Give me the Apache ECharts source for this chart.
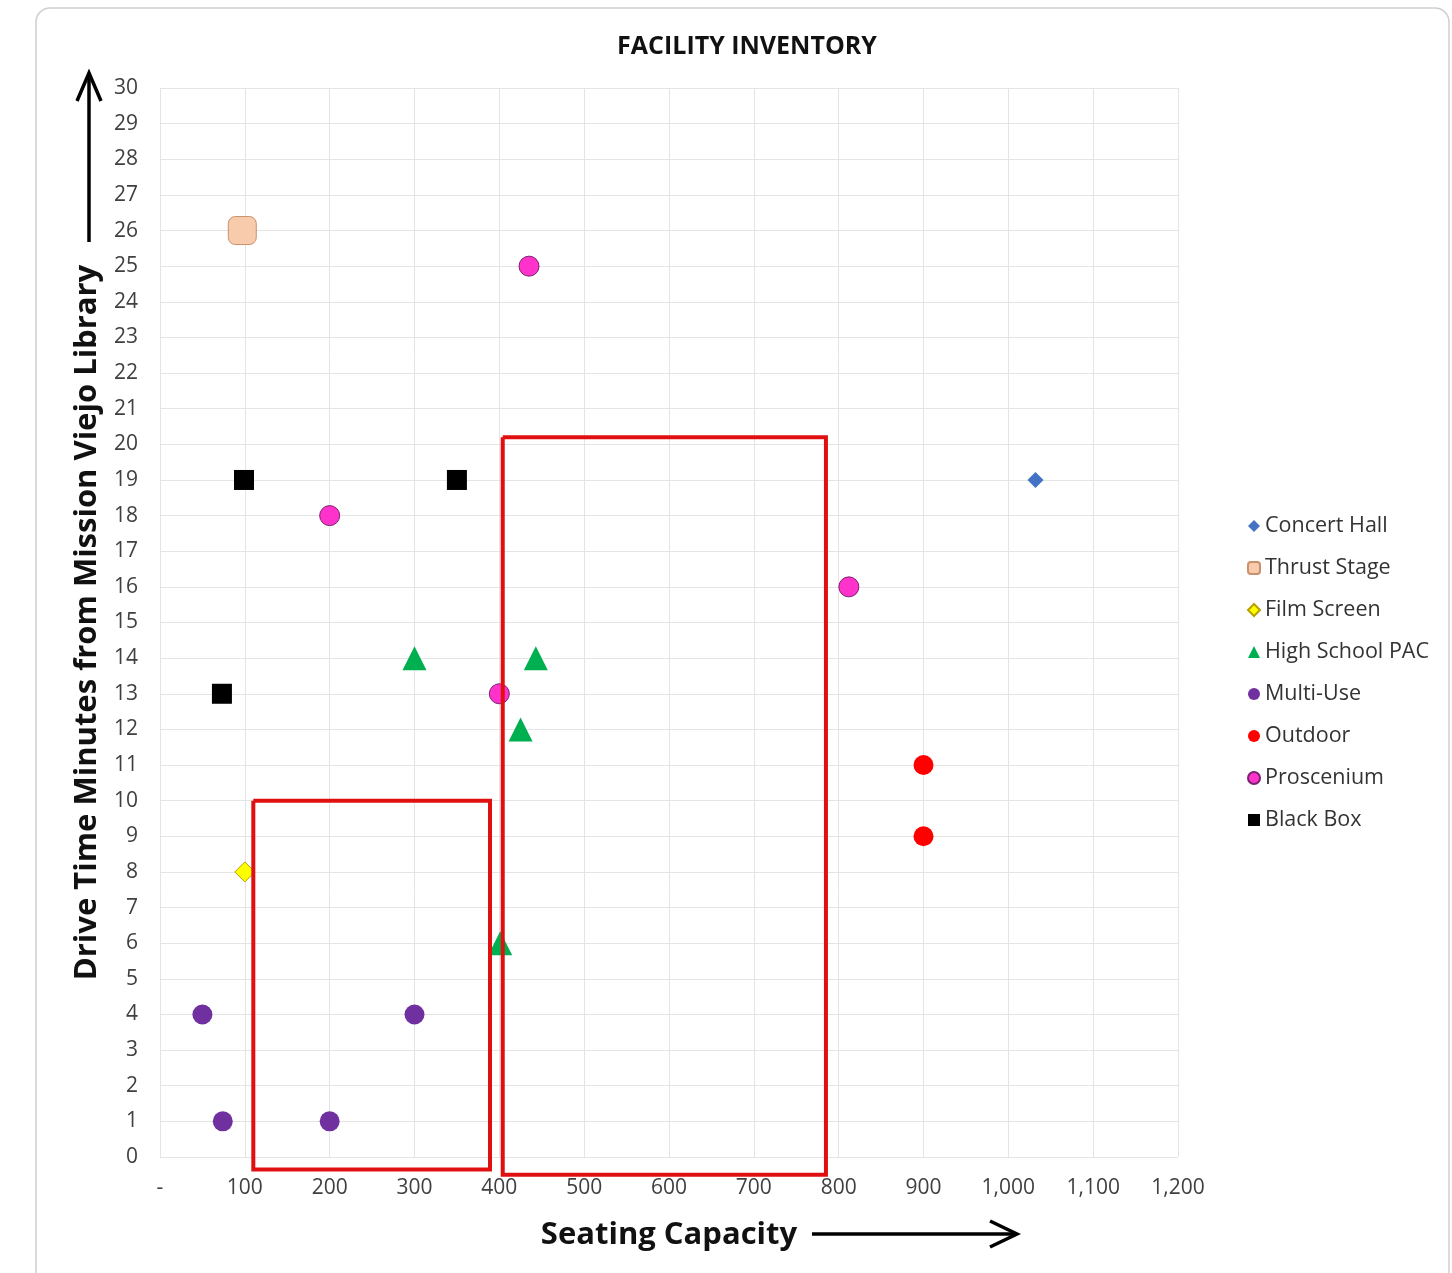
<!DOCTYPE html>
<html>
<head>
<meta charset="utf-8">
<script src="https://cdn.jsdelivr.net/npm/echarts@6/dist/echarts.min.js"></script>
<style>
  html, body { margin: 0; padding: 0; background: #fff; }
  #chart { width: 1452px; height: 1273px; }
</style>
</head>
<body>
<div id="chart"></div>
<script>
// 数据：各类场馆 [座位数, 车程分钟]
var concertHall = [[1032, 19]];
var thrustStage = [[97, 26]];
var filmScreen = [[100, 8]];
var highSchoolPac = [[300, 14], [443, 14], [425, 12], [401, 6]];
var multiUse = [[50, 4], [74, 1], [200, 1], [300, 4]];
var outdoor = [[900, 11], [900, 9]];
var proscenium = [[435, 25], [200, 18], [812, 16], [400, 13]];
var blackBox = [[99, 19], [350, 19], [73, 13]];

// 红框（目标区域）
var boxSmall = [[110, 10], [389, 10], [389, -0.35], [110, -0.35], [110, 10]];
var boxLarge = [[404, 20.2], [785, 20.2], [785, -0.5], [404, -0.5], [404, 20.2]];

var legendNames = ['Concert Hall', 'Thrust Stage', 'Film Screen', 'High School PAC',
    'Multi-Use', 'Outdoor', 'Proscenium', 'Black Box'];

var FONT = 'Open Sans';

var chart = echarts.init(document.getElementById('chart'));

function scatter(name, data, symbol, size, color, border) {
    return {
        name: name,
        type: 'scatter',
        data: data,
        symbol: symbol,
        symbolSize: size,
        itemStyle: {
            color: color,
            borderColor: border || color,
            borderWidth: border ? 1 : 0,
            opacity: 1
        },
        z: 3
    };
}

function box(data) {
    return {
        type: 'line',
        data: data,
        symbol: 'none',
        clip: false,
        silent: true,
        lineStyle: { color: '#E01010', width: 4, join: 'miter' },
        z: 5
    };
}

var option = {
    animation: false,
    backgroundColor: '#fff',
    title: {
        text: 'FACILITY INVENTORY',
        left: 742,
        textAlign: 'center',
        top: 29,
        textStyle: { fontFamily: FONT, fontSize: 25, fontWeight: 'bold', color: '#111' }
    },
    legend: {
        orient: 'vertical',
        left: 1242,
        top: 510,
        data: legendNames,
        itemWidth: 12,
        itemHeight: 12,
        itemGap: 20,
        textStyle: { fontFamily: FONT, fontSize: 21.5, color: '#333' }
    },
    grid: { left: 160, right: 274, top: 88, bottom: 116 },
    xAxis: {
        type: 'value',
        min: 0,
        max: 1200,
        interval: 100,
        name: 'Seating Capacity',
        nameLocation: 'middle',
        nameGap: 63,
        nameTextStyle: { fontFamily: FONT, fontSize: 31, fontWeight: 'bold', color: '#111' },
        axisLine: { show: false },
        axisTick: { show: false },
        axisLabel: {
            fontFamily: FONT, fontSize: 21, color: '#404040', margin: 21,
            formatter: function (v) { return v === 0 ? '-' : v.toLocaleString('en-US'); }
        },
        splitLine: { lineStyle: { color: '#e4e4e4', width: 1 } }
    },
    yAxis: {
        type: 'value',
        min: 0,
        max: 30,
        interval: 1,
        name: 'Drive Time Minutes from Mission Viejo Library',
        nameLocation: 'middle',
        nameRotate: 90,
        nameGap: 55,
        nameTextStyle: { fontFamily: FONT, fontSize: 31, fontWeight: 'bold', color: '#111' },
        axisLine: { show: false },
        axisTick: { show: false },
        axisLabel: { fontFamily: FONT, fontSize: 21, color: '#404040', margin: 22 },
        splitLine: { lineStyle: { color: '#e4e4e4', width: 1 } }
    },
    graphic: [
        // 外框
        {
            type: 'rect',
            shape: { x: 36, y: 8, width: 1413, height: 1290, r: 14 },
            style: { fill: 'none', stroke: '#cfcfcf', lineWidth: 1.5 },
            z: -1
        },
        // y轴箭头
        {
            type: 'line',
            shape: { x1: 89, y1: 242, x2: 89, y2: 74 },
            style: { stroke: '#000', lineWidth: 3.5 }
        },
        {
            type: 'polyline',
            shape: { points: [[77, 101], [89, 73], [101, 101]] },
            style: { stroke: '#000', lineWidth: 3.5, fill: 'none' }
        },
        // x轴箭头
        {
            type: 'line',
            shape: { x1: 812, y1: 1234, x2: 1016, y2: 1234 },
            style: { stroke: '#000', lineWidth: 3.5 }
        },
        {
            type: 'polyline',
            shape: { points: [[990, 1221], [1017, 1234], [990, 1247]] },
            style: { stroke: '#000', lineWidth: 3.5, fill: 'none' }
        }
    ],
    series: [
        scatter('Concert Hall', concertHall, 'diamond', 16, '#4472C4'),
        scatter('Thrust Stage', thrustStage, 'roundRect', 28, '#F8CBAD', '#C8916B'),
        scatter('Film Screen', filmScreen, 'diamond', 20, '#FFFF00', '#B8A000'),
        scatter('High School PAC', highSchoolPac, 'triangle', 24, '#00B050'),
        scatter('Multi-Use', multiUse, 'circle', 20, '#7030A0'),
        scatter('Outdoor', outdoor, 'circle', 20, '#FF0000'),
        scatter('Proscenium', proscenium, 'circle', 20, '#FF33CC', '#7A2070'),
        scatter('Black Box', blackBox, 'rect', 20, '#000000'),
        box(boxSmall),
        box(boxLarge)
    ]
};

chart.setOption(option);
</script>
</body>
</html>
